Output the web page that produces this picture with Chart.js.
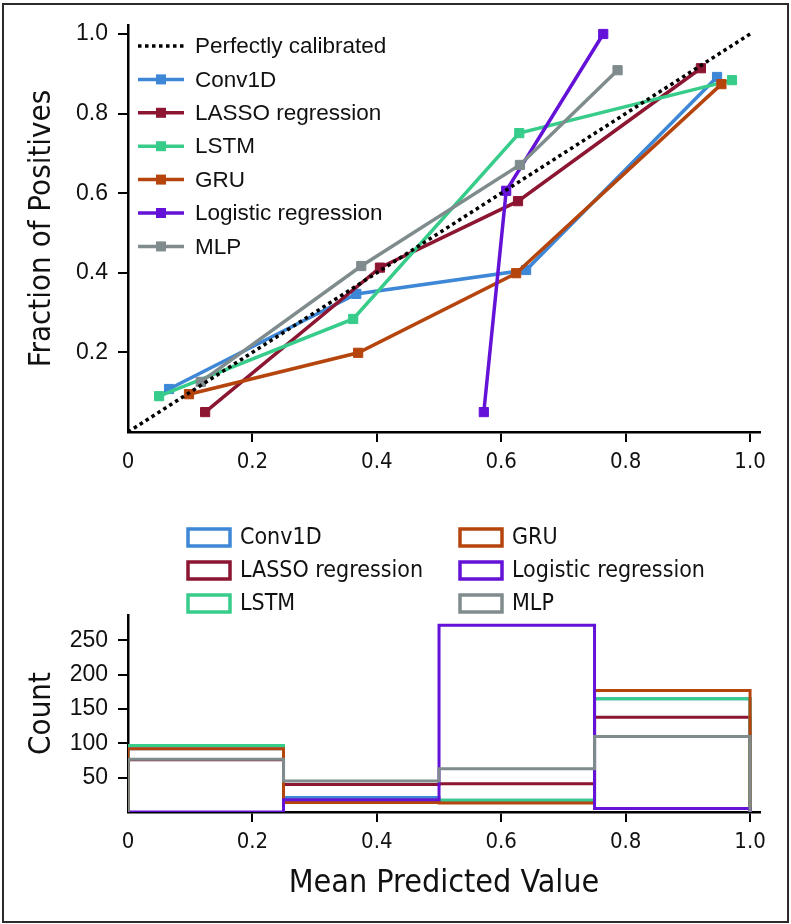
<!DOCTYPE html>
<html>
<head>
<meta charset="utf-8">
<script src="https://cdn.jsdelivr.net/npm/chart.js@4.4.1/dist/chart.umd.min.js"></script>
<style>
	body { margin: 0; background: #fff; }
	#wrap { position: relative; width: 791px; height: 924px; background: #fff; }
	#wrap canvas { position: absolute; left: 0; }
	#frame { position: absolute; left: 2px; top: 3px; width: 787px; height: 920px; box-sizing: border-box; border: 2px solid #2b2b2b; pointer-events: none; }
</style>
</head>
<body>
<div id="wrap">
	<canvas id="calib" width="791" height="480" style="top:0"></canvas>
	<canvas id="hist" width="791" height="444" style="top:480px"></canvas>
	<div id="frame"></div>
</div>
<script>
// calibration curves (mean predicted value, fraction of positives)
var models = ['Conv1D', 'LASSO regression', 'LSTM', 'GRU', 'Logistic regression', 'MLP'];
var colors = ['#3d87d6', '#8c1532', '#38cc8b', '#b5450d', '#6411d8', '#7f8b8c'];

var conv1dX = [0.066, 0.367, 0.640, 0.947];
var conv1dY = [0.108, 0.347, 0.407, 0.892];
var lassoX = [0.124, 0.405, 0.627, 0.921];
var lassoY = [0.050, 0.413, 0.580, 0.914];
var lstmX = [0.050, 0.362, 0.629, 0.971];
var lstmY = [0.090, 0.284, 0.751, 0.884];
var gruX = [0.098, 0.370, 0.624, 0.954];
var gruY = [0.095, 0.199, 0.399, 0.874];
var logisticX = [0.572, 0.608, 0.764];
var logisticY = [0.050, 0.606, 1.000];
var mlpX = [0.117, 0.375, 0.630, 0.787];
var mlpY = [0.126, 0.417, 0.671, 0.909];

// histogram of predicted values, 4 bins
var binEdges = [0, 0.25, 0.5, 0.75, 1.0];
var conv1dCounts = [92, 21, 17, 165];
var lassoCounts = [76, 40, 41, 138];
var lstmCounts = [97, 18, 17, 165];
var gruCounts = [92, 14, 13, 177];
var logisticCounts = [0, 18, 272, 5];
var mlpCounts = [77, 45, 63, 110];

var xTicks = [0, 0.2, 0.4, 0.6, 0.8, 1.0];
var calibYTicks = [0.2, 0.4, 0.6, 0.8, 1.0];
var countTicks = [50, 100, 150, 200, 250];

var narrow = "'DejaVu Sans Condensed', sans-serif";
var regular = "'Liberation Sans', Arial, sans-serif";

function toPoints(xs, ys) {
	var pts = [];
	for (var i in xs) pts.push({x: xs[i], y: ys[i]});
	return pts;
}

function stepPoints(counts) {
	var pts = [{x: binEdges[0], y: 0}];
	for (var i = 0; i < counts.length; i++) {
		pts.push({x: binEdges[i], y: counts[i]});
		pts.push({x: binEdges[i + 1], y: counts[i]});
	}
	pts.push({x: binEdges[binEdges.length - 1], y: 0});
	return pts;
}

function setTicks(list) {
	return function(scale) {
		scale.ticks = list.map(function(v) { return {value: v}; });
	};
}

function xLabel(v) { return v === 0 ? '0' : v.toFixed(1); }

function axisGrid() {
	return {
		drawOnChartArea: false,
		tickLength: 10,
		lineWidth: 2,
		color: function(c) { return c.tick && c.tick.value === 0 ? 'rgba(0,0,0,0)' : '#000'; }
	};
}

var calibX = [conv1dX, lassoX, lstmX, gruX, logisticX, mlpX];
var calibY = [conv1dY, lassoY, lstmY, gruY, logisticY, mlpY];
var counts = [conv1dCounts, lassoCounts, lstmCounts, gruCounts, logisticCounts, mlpCounts];

var calibSets = [{
	label: 'Perfectly calibrated',
	data: toPoints([0, 1], [0, 1]),
	borderColor: '#000',
	borderWidth: 3.5,
	borderDash: [3.5, 3.5],
	pointRadius: 0,
	order: 0
}];
models.forEach(function(m, i) {
	calibSets.push({
		label: m,
		data: toPoints(calibX[i], calibY[i]),
		borderColor: colors[i],
		backgroundColor: colors[i],
		borderWidth: 3.5,
		pointStyle: 'rect',
		pointRadius: 6.5,
		pointBorderWidth: 1,
		order: models.length - i
	});
});

var topLegend = {
	id: 'topLegend',
	afterDraw: function(chart) {
		var ctx = chart.ctx;
		chart.data.datasets.forEach(function(ds, i) {
			var y = 46 + i * 33.4;
			ctx.save();
			ctx.strokeStyle = ds.borderColor;
			ctx.lineWidth = ds.borderWidth;
			ctx.setLineDash(ds.borderDash || []);
			ctx.beginPath();
			ctx.moveTo(138, y);
			ctx.lineTo(184, y);
			ctx.stroke();
			if (ds.pointRadius > 0) {
				ctx.fillStyle = ds.borderColor;
				ctx.fillRect(156, y - 5, 10, 10);
			}
			ctx.fillStyle = '#111';
			ctx.font = '22.5px ' + regular;
			ctx.textBaseline = 'middle';
			ctx.fillText(ds.label, 195, y + 1);
			ctx.restore();
		});
	}
};

new Chart(document.getElementById('calib'), {
	type: 'line',
	data: {datasets: calibSets},
	options: {
		responsive: false,
		animation: false,
		layout: {padding: {left: 0, right: 31, top: 25, bottom: 0}},
		elements: {line: {tension: 0}},
		plugins: {legend: {display: false}, tooltip: {enabled: false}},
		scales: {
			x: {
				type: 'linear', min: 0, max: 1.016,
				afterBuildTicks: setTicks(xTicks),
				afterFit: function(s) { s.height = 48; },
				grid: axisGrid(),
				border: {color: '#000', width: 2.5},
				ticks: {callback: xLabel, color: '#111', padding: 7, maxRotation: 0, font: {family: narrow, size: 22}}
			},
			y: {
				type: 'linear', min: 0, max: 1.0226,
				afterBuildTicks: setTicks(calibYTicks),
				afterFit: function(s) { s.width = 128; },
				grid: axisGrid(),
				border: {color: '#000', width: 2.5},
				ticks: {callback: function(v) { return v.toFixed(1); }, color: '#111', padding: 10, font: {family: regular, size: 23}},
				title: {display: true, text: 'Fraction of Positives', color: '#111', padding: {top: 26, bottom: 0}, font: {family: narrow, size: 31, lineHeight: 1}}
			}
		}
	},
	plugins: [topLegend]
});

var histSets = models.map(function(m, i) {
	return {
		label: m,
		data: stepPoints(counts[i]),
		borderColor: colors[i],
		borderWidth: 3,
		pointRadius: 0,
		fill: false,
		order: models.length - i
	};
});

var boxLegend = {
	id: 'boxLegend',
	afterDraw: function(chart) {
		var ctx = chart.ctx;
		var colX = [188, 460];
		var rowY = [57, 90, 123];
		chart.data.datasets.forEach(function(ds, i) {
			var x = colX[Math.floor(i / 3)];
			var y = rowY[i % 3];
			ctx.save();
			ctx.strokeStyle = ds.borderColor;
			ctx.lineWidth = 3.5;
			ctx.strokeRect(x, y - 8, 42, 17);
			ctx.fillStyle = '#111';
			ctx.font = '23px ' + narrow;
			ctx.textBaseline = 'middle';
			ctx.fillText(ds.label, x + 52, y + 1);
			ctx.restore();
		});
	}
};

new Chart(document.getElementById('hist'), {
	type: 'line',
	data: {datasets: histSets},
	options: {
		responsive: false,
		animation: false,
		layout: {padding: {left: 0, right: 31, top: 135, bottom: 0}},
		elements: {line: {tension: 0, borderJoinStyle: 'miter'}},
		plugins: {legend: {display: false}, tooltip: {enabled: false}},
		scales: {
			x: {
				type: 'linear', min: 0, max: 1.016,
				afterBuildTicks: setTicks(xTicks),
				afterFit: function(s) { s.height = 112; },
				grid: axisGrid(),
				border: {color: '#000', width: 2.5},
				ticks: {callback: xLabel, color: '#111', padding: 7, maxRotation: 0, font: {family: narrow, size: 22}},
				title: {display: true, text: 'Mean Predicted Value', color: '#111', padding: {top: 0, bottom: 24}, font: {family: narrow, size: 32, lineHeight: 1}}
			},
			y: {
				type: 'linear', min: 0, max: 287,
				afterBuildTicks: setTicks(countTicks),
				afterFit: function(s) { s.width = 128; },
				grid: axisGrid(),
				border: {color: '#000', width: 2.5},
				ticks: {color: '#111', padding: 10, font: {family: regular, size: 23}},
				title: {display: true, text: 'Count', color: '#111', padding: {top: 26, bottom: 0}, font: {family: narrow, size: 31, lineHeight: 1}}
			}
		}
	},
	plugins: [boxLegend]
});
</script>
</body>
</html>
